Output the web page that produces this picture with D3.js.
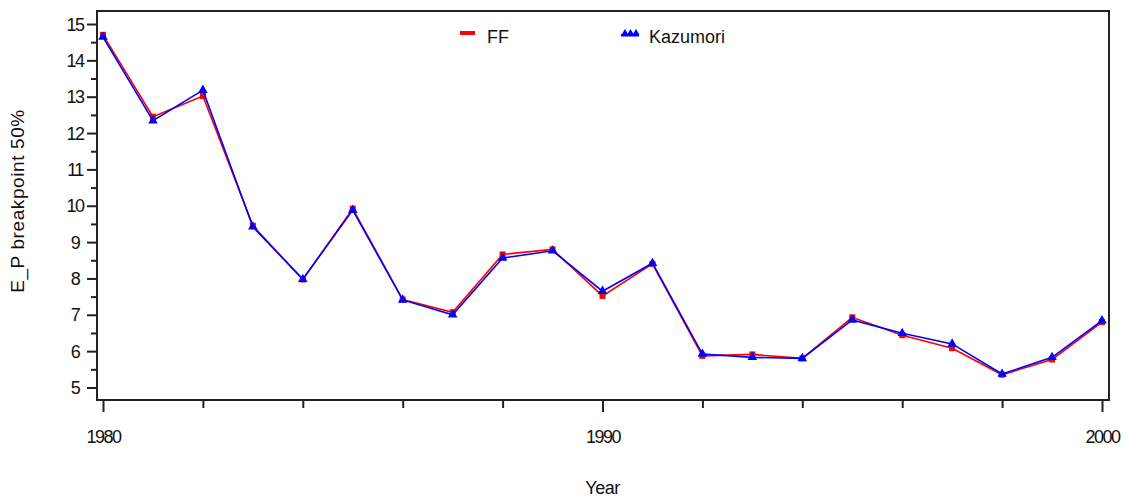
<!DOCTYPE html>
<html>
<head>
<meta charset="utf-8">
<script src="https://cdn.jsdelivr.net/npm/d3@7"></script>
<style>
  body { margin: 0; background: #fff; }
  svg text { font-family: "Liberation Sans", Arial, sans-serif; fill: #111; }
</style>
</head>
<body>
<svg id="chart" width="1131" height="497"></svg>
<script>
const years = [1980,1981,1982,1983,1984,1985,1986,1987,1988,1989,1990,1991,1992,1993,1994,1995,1996,1997,1998,1999,2000];
const ffValues = [14.70,12.45,13.02,9.45,7.97,9.92,7.42,7.07,8.66,8.80,7.52,8.40,5.87,5.91,5.80,6.93,6.44,6.08,5.35,5.77,6.80];
const kazValues = [14.64,12.34,13.18,9.42,7.98,9.88,7.41,7.00,8.56,8.76,7.65,8.42,5.92,5.83,5.80,6.86,6.49,6.20,5.37,5.83,6.84];
const yTicks = [5,6,7,8,9,10,11,12,13,14,15];
const yMinorTicks = [5.5,6.5,7.5,8.5,9.5,10.5,11.5,12.5,13.5,14.5];
const xLabelTicks = [1980,1990,2000];
const xMinorTicks = [1982,1984,1986,1988,1992,1994,1996,1998];
const seriesNames = ["FF","Kazumori"];
const seriesColors = ["#ff0000","#0000ff"];
const yTitle = "E_P breakpoint 50%";
const xTitle = "Year";

const svg = d3.select("#chart");
const frame = {left: 97, right: 1109, top: 11, bottom: 400};

const x = d3.scaleLinear().domain([1980, 2000]).range([103, 1102]);
const y = d3.scaleLinear().domain([5, 15]).range([387.5, 24]);

// frame
svg.append("rect")
  .attr("x", frame.left).attr("y", frame.top)
  .attr("width", frame.right - frame.left).attr("height", frame.bottom - frame.top)
  .attr("fill", "none").attr("stroke", "#222").attr("stroke-width", 2);

// y axis ticks
const yAxis = d3.axisLeft(y).tickValues(yTicks).tickSize(10).tickPadding(5).tickFormat(d3.format("d"));
const gy = svg.append("g").attr("transform", `translate(${frame.left},0)`).call(yAxis);
gy.select(".domain").remove();
gy.selectAll(".tick line").attr("stroke", "#222").attr("stroke-width", 2);
gy.selectAll(".tick text").attr("font-size", 18).attr("letter-spacing", "-1.5px")
  .attr("text-anchor", "middle").attr("x", -22).attr("dy", "0.34em");
const yMinor = d3.axisLeft(y).tickValues(yMinorTicks).tickSize(6).tickFormat("");
const gym = svg.append("g").attr("transform", `translate(${frame.left},0)`).call(yMinor);
gym.select(".domain").remove();
gym.selectAll(".tick line").attr("stroke", "#222").attr("stroke-width", 2);

// x axis ticks
const xAxis = d3.axisBottom(x).tickValues(xLabelTicks).tickSize(12).tickPadding(18).tickFormat(d3.format("d"));
const gx = svg.append("g").attr("transform", `translate(0,${frame.bottom})`).call(xAxis);
gx.select(".domain").remove();
gx.selectAll(".tick line").attr("stroke", "#222").attr("stroke-width", 2);
gx.selectAll(".tick text").attr("font-size", 18).attr("letter-spacing", "-1.5px");
const xMinor = d3.axisBottom(x).tickValues(xMinorTicks).tickSize(8).tickFormat("");
const gxm = svg.append("g").attr("transform", `translate(0,${frame.bottom})`).call(xMinor);
gxm.select(".domain").remove();
gxm.selectAll(".tick line").attr("stroke", "#222").attr("stroke-width", 2);

// titles
svg.append("text").attr("x", x(1990)).attr("y", 494)
  .attr("text-anchor", "middle").attr("font-size", 18).attr("letter-spacing", "-0.5px").text(xTitle);
svg.append("text").attr("transform", `translate(24,201) rotate(-90)`)
  .attr("text-anchor", "middle").attr("font-size", 19).attr("letter-spacing", "0.6px").text(yTitle);

// series
const series = [ffValues, kazValues];
const line = d3.line().x((d, i) => x(years[i])).y(d => y(d));
series.forEach((vals, s) => {
  const g = svg.append("g");
  g.append("path").datum(vals).attr("d", line)
    .attr("fill", "none").attr("stroke", seriesColors[s]).attr("stroke-width", 1.6);
  if (s === 0) {
    g.selectAll("rect").data(vals).join("rect")
      .attr("x", (d, i) => x(years[i]) - 3).attr("y", d => y(d) - 3)
      .attr("width", 6).attr("height", 6).attr("fill", seriesColors[s]);
  } else {
    g.selectAll("path.m").data(vals).join("path").attr("class", "m")
      .attr("d", d3.symbol(d3.symbolTriangle, 40))
      .attr("transform", (d, i) => `translate(${x(years[i])},${y(d)})`)
      .attr("fill", seriesColors[s]);
  }
});

// legend
const leg = svg.append("g");
leg.append("rect").attr("x", 460).attr("y", 31).attr("width", 15).attr("height", 4).attr("fill", seriesColors[0]);
leg.append("text").attr("x", 487).attr("y", 43).attr("font-size", 18).text(seriesNames[0]);
[625, 630.5, 636].forEach(cx => {
  leg.append("path").attr("d", d3.symbol(d3.symbolTriangle, 22))
    .attr("transform", `translate(${cx},33)`).attr("fill", seriesColors[1]);
});
leg.append("rect").attr("x", 621).attr("y", 34).attr("width", 18).attr("height", 2.5).attr("fill", seriesColors[1]);
leg.append("text").attr("x", 649).attr("y", 43).attr("font-size", 18).text(seriesNames[1]);
</script>
</body>
</html>
